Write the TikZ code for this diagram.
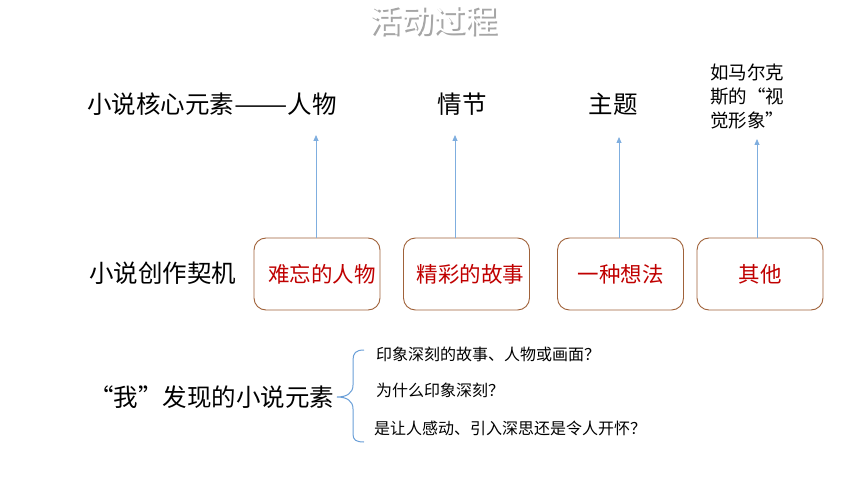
\documentclass[tikz,border=0pt]{standalone}
\usepackage{fontspec}
\usepackage{graphicx}
\setmainfont{Noto Sans CJK SC}
\usetikzlibrary{arrows.meta}
\definecolor{boxbrown}{HTML}{A0623A}
\definecolor{boxred}{HTML}{C00000}
\definecolor{arrblue}{HTML}{7FAEDF}
\definecolor{braceblue}{HTML}{6A9FD8}
\tikzset{
  bigtxt/.style={inner sep=0pt, font=\fontsize{24.5}{28}\selectfont, text=black},
  sidetxt/.style={inner sep=0pt, font=\fontsize{18.5}{24}\selectfont, text=black, align=left},
  smalltxt/.style={inner sep=0pt, font=\fontsize{16}{18}\selectfont, text=black, anchor=west},
  ideabox/.style={draw=boxbrown, line width=0.9pt, rounded corners=12pt, minimum width=126pt, minimum height=72pt, inner sep=0pt, text=boxred, font=\fontsize{21.5}{24}\selectfont},
  uparrow/.style={draw=arrblue, line width=0.8pt, -{Triangle[length=6pt,width=5pt]}},
}
\begin{document}
\begin{tikzpicture}[x=1pt,y=-1pt]
\useasboundingbox (0,0) rectangle (860,484);
\fill[white] (0,0) rectangle (860,484);
% title with shadow
\node[inner sep=0pt, font=\fontsize{32}{34}\selectfont] (title) at (433.5,21.5)
  {\rlap{\hspace{1.8pt}\raisebox{-1.8pt}{\textcolor{black!35}{活动过程}}}\textcolor{white}{活动过程}};
% top row
\node[bigtxt, anchor=west] (core) at (87,104) {小说核心元素\scalebox{1.3}[1]{——}人物};
\node[bigtxt] (plot) at (462,104) {情节};
\node[bigtxt] (theme) at (613,104) {主题};
\node[sidetxt, anchor=north west] (other) at (710,64) {如马尔克\\斯的“视\\觉形象”};
% middle row
\node[bigtxt, anchor=west] (chance) at (89,273) {小说创作契机};
\node[ideabox] (b1) at (317,274) {\hspace*{10pt}难忘的人物};
\node[ideabox] (b2) at (466.5,274) {\hspace*{8pt}精彩的故事};
\node[ideabox] (b3) at (620.5,274) {一种想法};
\node[ideabox] (b4) at (760,274) {其他};
% arrow tips
\coordinate (t1) at (316,135);
\coordinate (t2) at (455,135);
\coordinate (t3) at (619,137);
\coordinate (t4) at (757,139);
\draw[uparrow] (b1.north -| t1) -- (t1);
\draw[uparrow] (b2.north -| t2) -- (t2);
\draw[uparrow] (b3.north -| t3) -- (t3);
\draw[uparrow] (b4.north -| t4) -- (t4);
% bottom
\node[bigtxt, anchor=west] (found) at (89,397) {“我”发现的小说元素};
\coordinate (tip) at (337,397);
\draw[braceblue, line width=1pt]
  (364,350) .. controls (356,350) and (353,353) .. (353,360)
  -- (353,385) .. controls (353,393) and (347,397) .. (tip)
  .. controls (347,397) and (353,401) .. (353,409)
  -- (353,434) .. controls (353,440) and (356,442) .. (364,442);
\node[smalltxt] (q1) at (376,354) {印象深刻的故事、人物或画面？};
\node[smalltxt] (q2) at (376,390) {为什么印象深刻？};
\node[smalltxt] (q3) at (374,428) {是让人感动、引入深思还是令人开怀？};
\end{tikzpicture}
\end{document}
